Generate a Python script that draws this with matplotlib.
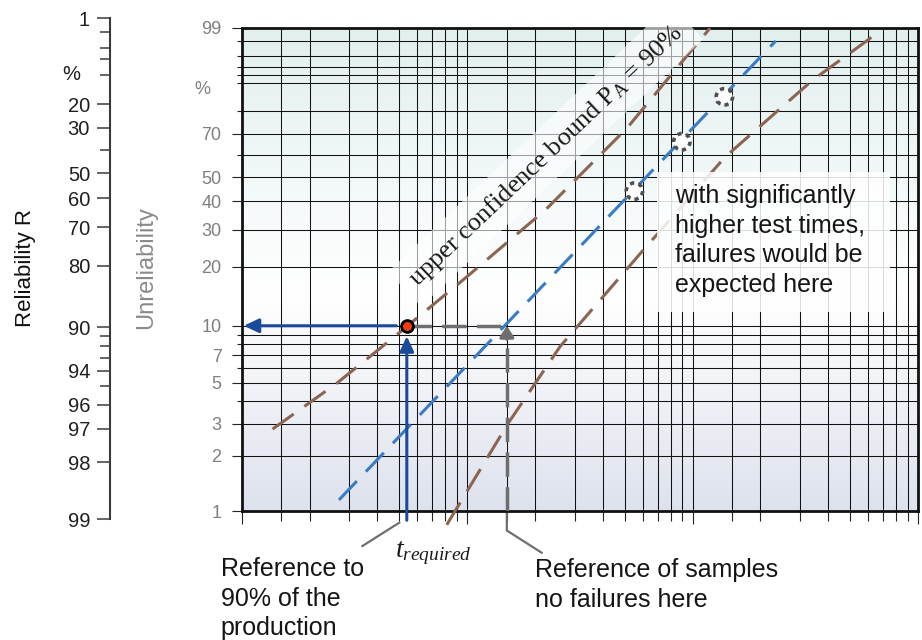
import numpy as np
import matplotlib
matplotlib.use("Agg")
import matplotlib.pyplot as plt
import matplotlib.transforms as mtransforms
from matplotlib.patches import Rectangle
from matplotlib.ticker import FixedLocator, FixedFormatter, NullFormatter

plt.rcParams['font.family'] = ['Liberation Sans', 'DejaVu Sans']
plt.rcParams['mathtext.fontset'] = 'custom'
plt.rcParams['mathtext.rm'] = 'Liberation Serif'
plt.rcParams['mathtext.it'] = 'Liberation Serif:italic'

# ===================== data =====================
# Weibull paper: x = time (log), y = unreliability F in %
F_major = [1, 2, 3, 5, 7, 10, 20, 30, 40, 50, 70, 99]
F_minor = [4, 6, 8, 9, 60, 80, 90, 92, 94, 96, 98]
t_major = [1, 10, 100, 1000]
t_minor = [1.5, 2, 3, 4, 5, 6, 7, 8, 9,
           15, 20, 30, 40, 50, 60, 70, 80, 90,
           150, 200, 300, 400, 500, 600, 700, 800, 900]

# reliability scale on the far left
R_major = [1, 20, 30, 50, 60, 70, 80, 90, 94, 96, 97, 98, 99]
R_minor = [2, 4, 6, 10, 40, 91, 92, 93, 95]

# median line (blue) and 90% confidence bounds (brown)
blue_t = [2.7, 234]
blue_F = [1.15, 98.0]
upper_t = [1.37, 2.64, 4.87, 9.96, 22.2, 51.1, 119.6]
upper_F = [2.8, 4.95, 8.96, 17.8, 36.7, 72.5, 99.0]
lower_t = [8.12, 15.2, 25.8, 59.5, 139.4, 342, 601, 659]
lower_F = [0.84, 3.01, 7.76, 23.6, 59.2, 90.8, 98.1, 98.7]

# failures expected at higher test times (open dotted circles)
open_t = [55.2, 89.6, 138.4]
open_F = [44.1, 66.3, 85.4]

t_required = 5.4
t_samples = 15
F_ref = 10


# ===================== scales =====================
def weib(F):
    F = np.clip(np.asarray(F, dtype=float), 1e-6, 100 - 1e-6)
    return np.log(-np.log(1 - F / 100))


def weib_inv(w):
    return 100 * (1 - np.exp(-np.exp(w)))


def rel_fwd(R):
    R = np.clip(np.asarray(R, dtype=float), 1e-6, 100 - 1e-6)
    return -np.log(-np.log(R / 100))


def rel_inv(v):
    return 100 * np.exp(-np.exp(-v))


W, H = 922, 640
def px_rect(x0, y0, x1, y1):
    return [x0 / W, 1 - y1 / H, (x1 - x0) / W, (y1 - y0) / H]


fig = plt.figure(figsize=(W / 100, H / 100), dpi=100)
main_rect = px_rect(241.7, 28, 918, 511)

# ---------- background gradient ----------
ax_bg = fig.add_axes(main_rect, zorder=0)
ax_bg.axis('off')
f = np.linspace(0, 1, 400)[:, None]
top_c = np.array([0.886, 0.937, 0.937])
mid_c = np.array([1.0, 1.0, 1.0])
bot_c = np.array([0.870, 0.886, 0.930])
split = 0.45
up = np.clip((f - split) / (1 - split), 0, 1)
dn = np.clip(f / split, 0, 1)
grad = np.where(f[..., None] > split,
                mid_c + (top_c - mid_c) * up[..., None],
                bot_c + (mid_c - bot_c) * dn[..., None])
ax_bg.imshow(grad, origin='lower', extent=(0, 1, 0, 1), aspect='auto')

# ---------- main Weibull axes ----------
ax = fig.add_axes(main_rect, zorder=1)
ax.set_facecolor('none')
ax.set_xscale('log')
ax.set_yscale('function', functions=(weib, weib_inv))
ax.set_xlim(1, 1000)
ax.set_ylim(1, 99)

ax.xaxis.set_major_locator(FixedLocator(t_major))
ax.xaxis.set_minor_locator(FixedLocator(t_minor))
ax.xaxis.set_major_formatter(NullFormatter())
ax.xaxis.set_minor_formatter(NullFormatter())
ax.yaxis.set_major_locator(FixedLocator(F_major))
ax.yaxis.set_major_formatter(FixedFormatter([str(v) for v in F_major]))
ax.yaxis.set_minor_locator(FixedLocator(F_minor))
ax.yaxis.set_minor_formatter(NullFormatter())

ax.tick_params(axis='x', which='major', length=9.5, width=0.8, color='#222222')
ax.tick_params(axis='x', which='minor', length=7.5, width=0.8, color='#222222')
ax.tick_params(axis='y', which='major', length=7.5, width=0.8, pad=7,
               labelsize=13, labelcolor='#7f7f7f', color='#222222')
ax.tick_params(axis='y', which='minor', length=3.6, width=0.8, color='#222222')
ax.grid(which='both', color='#111111', lw=0.75)
for sp in ax.spines.values():
    sp.set_linewidth(2.0)
    sp.set_color('#111111')

ax.text(202 / W, 88, '%', transform=mtransforms.blended_transform_factory(fig.transFigure, ax.transData),
        ha='center', va='center', fontsize=13, color='#7f7f7f')

# ---------- curves ----------
ax.plot(blue_t, blue_F, color='#3a7cc3', lw=2.2, dashes=(8.5, 4.3), zorder=3)
ax.plot(upper_t, upper_F, color='#8c6552', lw=2.2, dashes=(8.5, 4.3), zorder=3)
ax.plot(lower_t, lower_F, color='#8c6552', lw=2.2, dashes=(8.5, 4.3), zorder=3, clip_on=False)

ax.scatter(open_t, open_F, s=140, facecolor='white', edgecolor='#505050',
           linewidths=2.6, linestyle=(0, (1.2, 1.2)), zorder=5)

# text box
ax.add_patch(Rectangle((0.614, 0.412), 0.3446, 0.290, transform=ax.transAxes,
                       fc='white', ec='none', alpha=0.85, zorder=4))
ax.text(0.6407, 0.6770, 'with significantly\nhigher test times,\nfailures would be\nexpected here',
        transform=ax.transAxes, fontsize=18, va='top', ha='left', color='#151515',
        linespacing=1.3, zorder=5)

# band label
ax.text(0.2588, 0.4644, r'upper confidence bound P$_\mathrm{A}$ = 90%', transform=ax.transAxes,
        rotation=43.5, rotation_mode='anchor', ha='left', va='baseline', fontsize=19,
        family='Liberation Serif', color='#1a1a1a', zorder=4.5,
        bbox=dict(boxstyle='square,pad=0.4', fc='white', ec='none', alpha=0.6))

# gray reference (samples)
gray = '#6e6e6e'
ax.plot([t_required, t_samples], [F_ref, F_ref], color=gray, lw=2.5, dashes=(7, 3), zorder=4)
ax.plot([t_samples, t_samples], [1, 8.5], color=gray, lw=2.5, dashes=(7, 3), zorder=4)
ax.annotate('', xy=(t_samples, F_ref), xytext=(t_samples, 8.5),
            arrowprops=dict(arrowstyle='-|>,head_length=0.65,head_width=0.42', color=gray,
                            lw=2.5, shrinkA=0, shrinkB=0, mutation_scale=10), zorder=4)

# blue arrows
blue_dk = '#1c4a9a'
ax.annotate('', xy=(1.02, F_ref), xytext=(t_required, F_ref), annotation_clip=False,
            arrowprops=dict(arrowstyle='-|>,head_length=0.9,head_width=0.42', color=blue_dk,
                            lw=2.2, shrinkA=7.5, shrinkB=0, mutation_scale=10), zorder=6)
ax.annotate('', xy=(t_required, F_ref), xytext=(t_required, 0.89), annotation_clip=False,
            arrowprops=dict(arrowstyle='-|>,head_length=0.9,head_width=0.42', color=blue_dk,
                            lw=2.2, shrinkA=0, shrinkB=7.5, mutation_scale=10), zorder=6)

ax.plot([t_required], [F_ref], 'o', ms=8.5, mfc='#f03c10', mec='black', mew=2, zorder=7)

# connectors below the axis
trans_b = mtransforms.blended_transform_factory(ax.transData, ax.transAxes)
ax.plot([t_samples, t_samples, 21.4], [0, -0.0404, -0.0863], transform=trans_b,
        clip_on=False, color=gray, lw=1.6)
ax.plot([5.0, 3.43], [-0.0242, -0.0725], transform=trans_b, clip_on=False, color=gray, lw=1.6)

# ---------- reliability scale ----------
ax_r = fig.add_axes(px_rect(110, 18.3, 111, 519.3))
ax_r.set_facecolor('none')
ax_r.set_yscale('function', functions=(rel_fwd, rel_inv))
ax_r.set_ylim(99, 1)
for s in ['top', 'right', 'bottom']:
    ax_r.spines[s].set_visible(False)
ax_r.spines['left'].set_linewidth(1.5)
ax_r.spines['left'].set_color('#3a3a3a')
ax_r.set_xticks([])
ax_r.yaxis.set_major_locator(FixedLocator(R_major))
ax_r.yaxis.set_major_formatter(FixedFormatter([str(v) for v in R_major]))
ax_r.yaxis.set_minor_locator(FixedLocator(R_minor))
ax_r.yaxis.set_minor_formatter(NullFormatter())
ax_r.tick_params(axis='y', which='major', length=9.6, width=1.1, pad=4.8,
                 labelsize=14.5, labelcolor='#1f1f1f', color='#3a3a3a')
ax_r.tick_params(axis='y', which='minor', length=7.2, width=1.1, color='#3a3a3a')
ax_r.text(71.5 / W, 10, '%', transform=mtransforms.blended_transform_factory(fig.transFigure, ax_r.transData),
          ha='center', va='center', fontsize=14.5, color='#1f1f1f')

# ---------- labels ----------
fig.text(26 / W, 1 - 268 / H, 'Reliability R', rotation=90, fontsize=16,
         ha='center', va='center', color='#111111')
fig.text(146 / W, 1 - 268 / H, 'Unreliability', rotation=90, fontsize=17,
         ha='center', va='center', color='#8a8a8a')
fig.text(0.4284, 1 - 557 / H, r'$t_{required}$', fontsize=20, va='baseline', color='#1a1a1a')
fig.text(220.7 / W, 1 - 557 / H, 'Reference to\n90% of the\nproduction', fontsize=18,
         va='top', ha='left', color='#151515', linespacing=1.3)
fig.text(535 / W, 1 - 558 / H, 'Reference of samples\nno failures here', fontsize=18,
         va='top', ha='left', color='#151515', linespacing=1.3)

fig.savefig('out.png', dpi=100)
